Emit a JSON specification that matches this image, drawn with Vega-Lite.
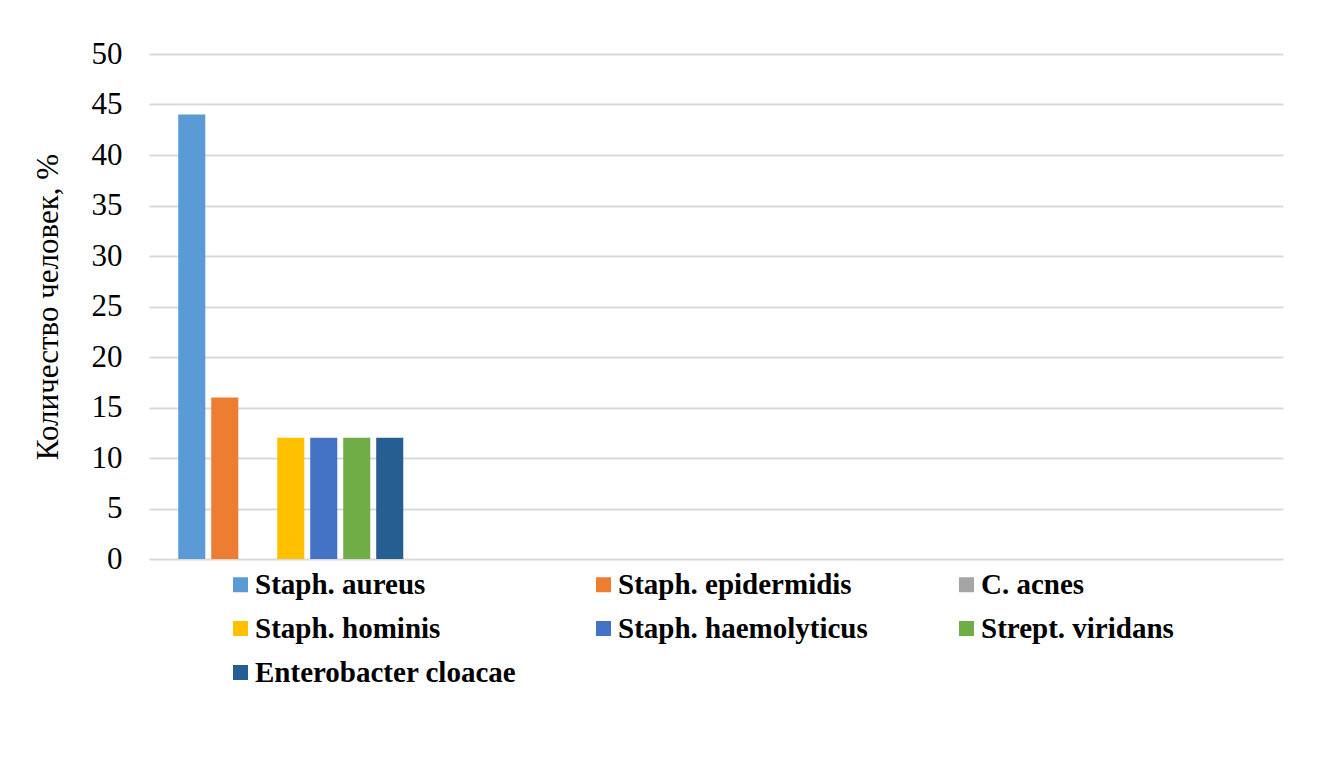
{
  "$schema": "https://vega.github.io/schema/vega-lite/v6.json",
  "width": 1134,
  "height": 505,
  "autosize": {"type": "none"},
  "padding": {"left": 149, "top": 54, "right": 42, "bottom": 214},
  "background": "white",
  "config": {
    "view": {"stroke": null},
    "font": "Liberation Serif"
  },
  "data": {
    "values": [
      {"group": "1", "species": "Staph. aureus", "value": 44},
      {"group": "1", "species": "Staph. epidermidis", "value": 16},
      {"group": "1", "species": "C. acnes", "value": 0},
      {"group": "1", "species": "Staph. hominis", "value": 12},
      {"group": "1", "species": "Staph. haemolyticus", "value": 12},
      {"group": "1", "species": "Strept. viridans", "value": 12},
      {"group": "1", "species": "Enterobacter cloacae", "value": 12}
    ]
  },
  "mark": {"type": "bar"},
  "encoding": {
    "x": {
      "field": "group",
      "type": "nominal",
      "scale": {"domain": ["1", "2", "3", "4"], "paddingInner": 0, "paddingOuter": 0},
      "axis": null
    },
    "xOffset": {
      "field": "species",
      "type": "nominal",
      "sort": ["Staph. aureus", "Staph. epidermidis", "C. acnes", "Staph. hominis", "Staph. haemolyticus", "Strept. viridans", "Enterobacter cloacae"],
      "scale": {"paddingInner": 0.18, "paddingOuter": 0.886}
    },
    "y": {
      "field": "value",
      "type": "quantitative",
      "scale": {"domain": [0, 50], "nice": false},
      "axis": {
        "values": [0, 5, 10, 15, 20, 25, 30, 35, 40, 45, 50],
        "title": "Количество человек, %",
        "titleFont": "Liberation Serif",
        "titleFontSize": 31,
        "titleFontWeight": "normal",
        "titleColor": "black",
        "titlePadding": 27,
        "labelFont": "Liberation Serif",
        "labelFontSize": 31,
        "labelColor": "black",
        "labelPadding": 27,
        "ticks": false,
        "domain": false,
        "grid": true,
        "gridColor": "#d9d9d9",
        "gridWidth": 2
      }
    },
    "fill": {
      "field": "species",
      "type": "nominal",
      "scale": {
        "domain": ["Staph. aureus", "Staph. epidermidis", "C. acnes", "Staph. hominis", "Staph. haemolyticus", "Strept. viridans", "Enterobacter cloacae"],
        "range": ["#5B9BD5", "#ED7D31", "#A5A5A5", "#FFC000", "#4472C4", "#70AD47", "#255E91"]
      },
      "legend": {
        "title": null,
        "orient": "none",
        "legendX": 77,
        "legendY": 516,
        "columns": 3,
        "direction": "horizontal",
        "gridAlign": "all",
        "columnPadding": 72,
        "rowPadding": 14,
        "symbolType": "square",
        "symbolSize": 225,
        "symbolStrokeWidth": 0,
        "labelFont": "Liberation Serif",
        "labelFontWeight": "bold",
        "labelFontSize": 29,
        "labelColor": "black",
        "labelOffset": 0,
        "labelLimit": 400
      }
    }
  }
}
